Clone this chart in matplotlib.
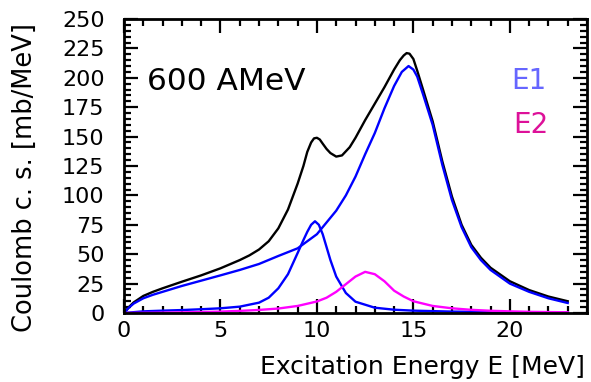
import matplotlib
matplotlib.use("Agg")
import matplotlib.pyplot as plt
from matplotlib.ticker import MultipleLocator

# ---- data ----
total_E = [0, 0.25, 0.5, 1, 1.5, 2, 3, 4, 5, 6, 6.5, 7, 7.5, 8, 8.5, 9, 9.3, 9.5, 9.7, 9.85, 10, 10.15, 10.3,
           10.5, 10.7, 11, 11.3, 11.7, 12, 12.5, 13, 13.5, 14, 14.3, 14.5, 14.65, 14.8, 15, 15.2, 15.5,
           16, 16.5, 17, 17.5, 18, 18.5, 19, 20, 21, 22, 23]
total_xs = [0, 5, 9, 14.5, 18, 21, 26.6, 32, 38, 45, 49, 54, 61, 72, 88, 110, 125, 137, 145, 148.5, 149, 147.5, 144,
            139.5, 136, 133, 134, 141, 149, 164, 178, 192, 207, 215, 219, 221, 220.5, 216, 206, 190,
            163, 129, 99, 75, 58, 47, 38.5, 27, 19.5, 14, 10]

gdr_E = [0, 0.25, 0.5, 1, 1.5, 2, 3, 4, 5, 6, 7, 8, 9, 10, 11, 11.5, 12, 12.5, 13, 13.5, 14, 14.4,
         14.75, 15, 15.2, 15.5, 16, 16.5, 17, 17.5, 18, 18.5, 19, 20, 21, 22, 23]
gdr_xs = [0, 4.5, 8, 12.5, 15.5, 18, 23, 27.5, 32, 36.6, 41.7, 48.5, 55, 67, 87, 100, 116, 135, 153, 174, 193, 205,
          210, 207, 201, 186, 160, 126, 96, 73, 56, 45, 36.6, 25, 18, 12.5, 8.5]

pdr_E = [0, 1, 2, 3, 4, 5, 6, 7, 7.5, 8, 8.5, 9, 9.3, 9.5, 9.7, 9.9, 10.1, 10.3, 10.5, 10.7, 11, 11.5,
         12, 13, 14, 15, 17, 20, 23]
pdr_xs = [0, 1.4, 2, 2.5, 3.2, 4, 5.4, 8.8, 13, 21, 33, 51, 62, 69, 75, 78, 75, 67, 56, 45, 31, 17,
          9.6, 4.5, 2.8, 2, 1.2, 0.6, 0.4]

e2_E = [0, 2, 4, 5, 6, 7, 8, 9, 10, 10.5, 11, 11.5, 12, 12.5, 13, 13.5, 14, 14.5, 15, 16, 17, 18, 19,
        20, 21, 22, 23]
e2_xs = [0, 0.3, 0.8, 1.2, 1.8, 2.6, 3.8, 6, 9.8, 13, 18, 24.5, 31, 35, 33, 27, 19, 14, 10, 6, 4, 2.7, 1.9,
         1.4, 1.0, 0.8, 0.6]

x_label = "Excitation Energy E [MeV]"
y_label = "Coulomb c. s. [mb/MeV]"
energy_text = "600 AMeV"
e1_text = "E1"
e2_text = "E2"

# ---- figure ----
W, H = 591, 382
fig = plt.figure(figsize=(W / 100, H / 100), dpi=100)
ax = fig.add_axes([124 / W, 1 - 313 / H, (587 - 124) / W, (313 - 19) / H])

lw = 1.7
ax.plot(total_E, total_xs, color="black", lw=lw)
ax.plot(gdr_E, gdr_xs, color="#0000ff", lw=lw)
ax.plot(pdr_E, pdr_xs, color="#0000ff", lw=lw)
ax.plot(e2_E, e2_xs, color="#ff00ff", lw=lw)

ax.set_xlim(0, 24)
ax.set_ylim(0, 250)
ax.xaxis.set_major_locator(MultipleLocator(5))
ax.xaxis.set_minor_locator(MultipleLocator(1))
ax.yaxis.set_major_locator(MultipleLocator(25))
ax.yaxis.set_minor_locator(MultipleLocator(5))
ax.tick_params(which="both", direction="in", top=True, right=True, width=1.6, color="black")
ax.tick_params(which="major", length=10)
ax.tick_params(which="minor", length=5)
ax.tick_params(axis="x", which="major", labelsize=16, pad=6)
ax.tick_params(axis="y", which="major", labelsize=16, pad=14)
for s in ax.spines.values():
    s.set_linewidth(2)

fig.text(422 / W, 1 - 367 / H, x_label, ha="center", va="center", fontsize=18)
fig.text(25 / W, 1 - 178 / H, y_label, ha="center", va="center", fontsize=18.5, rotation=90)

ax.text(1.2, 190, energy_text, fontsize=22.5, ha="left", va="baseline")
ax.text(21.0, 190.5, e1_text, fontsize=20, ha="center", va="baseline", color="#6666ff")
ax.text(21.1, 153, e2_text, fontsize=20, ha="center", va="baseline", color="#dd1199")

fig.savefig("out.png", dpi=100)
